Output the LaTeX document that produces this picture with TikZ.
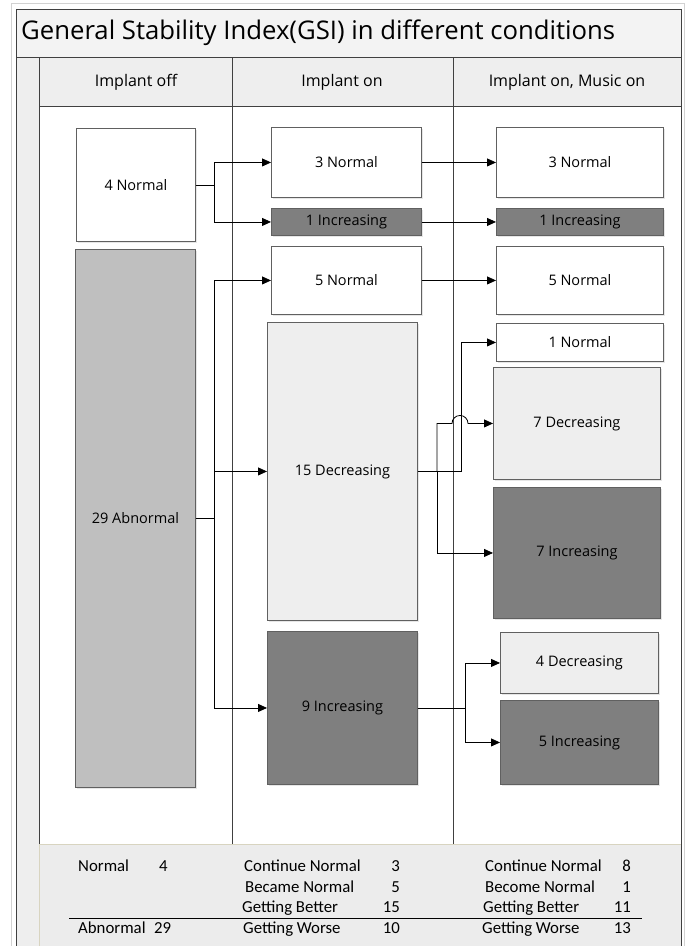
\documentclass[tikz,border=0pt]{standalone}
\usepackage{fontspec}
\setmainfont{Open Sans}
\newfontfamily\sumfont{Carlito}
\usetikzlibrary{arrows.meta, positioning, calc, shadows}
\definecolor{framecolor}{RGB}{96,96,96}
\definecolor{lanecolor}{RGB}{64,64,64}
\definecolor{headcolor}{RGB}{238,238,238}
\definecolor{sumcolor}{RGB}{236,236,236}
\definecolor{sumedge}{RGB}{216,212,192}
\definecolor{abnormcolor}{RGB}{191,191,191}
\definecolor{decrcolor}{RGB}{238,238,238}
\definecolor{incrcolor}{RGB}{127,127,127}

\tikzset{
  stage/.style={draw=framecolor, line width=0.9pt, anchor=north west, inner sep=0pt,
    font=\fontsize{14.5}{17}\selectfont,
    drop shadow={shadow xshift=1.2pt, shadow yshift=-1.2pt, opacity=0.2}},
  flow/.style={-{Triangle[length=9pt,width=8pt]}, line width=0.8pt},
  sumtext/.style={anchor=base west, inner sep=0pt, font=\sumfont\fontsize{16.8}{19}\selectfont},
  sumnum/.style={anchor=base east, inner sep=0pt, font=\sumfont\fontsize{16.8}{19}\selectfont},
}

\begin{document}
\begin{tikzpicture}[x=1pt,y=-1pt]
\useasboundingbox (0,0) rectangle (686,946);
% pool
\draw[gray!35, line width=0.8pt] (11,946) -- (11,3) -- (684,3) -- (684,946);
\fill[headcolor!70] (16,9) rectangle (681,57);
\fill[headcolor] (16,57) rectangle (39,946);
\fill[headcolor] (39,57) rectangle (681,106);
\fill[sumcolor] (39,844) rectangle (681,946);
\draw[sumedge, line width=0.8pt] (39,950) -- (39,844) -- (681,844);
\draw[lanecolor, line width=0.9pt] (16,946) -- (16,9) -- (681,9) -- (681,946);
\draw[lanecolor, line width=0.9pt] (16,57) -- (681,57);
\draw[lanecolor, line width=0.9pt] (39,57) -- (39,844);
\draw[lanecolor, line width=0.9pt] (39,106) -- (681,106);
\draw[lanecolor, line width=0.9pt] (232,57) -- (232,844);
\draw[lanecolor, line width=0.9pt] (453,57) -- (453,844);

\node[anchor=west, inner sep=0pt, font=\fontsize{25.7}{30}\selectfont] (title) at (21,33)
  {General Stability Index(GSI) in different conditions};
\node[font=\fontsize{16}{19}\selectfont] (hoff) at (136,82) {Implant off};
\node[font=\fontsize{16}{19}\selectfont] (hon) at (342,82) {Implant on};
\node[font=\fontsize{16}{19}\selectfont] (hmusic) at (567,82) {Implant on, Music on};

% Implant off
\node[stage, fill=white, minimum width=119pt, minimum height=113pt] (off4) at (76,128) {4 Normal};
\node[stage, fill=abnormcolor, minimum width=120pt, minimum height=538pt] (off29) at (75,249) {29 Abnormal};

% Implant on
\node[stage, fill=white, minimum width=150pt, minimum height=70pt] (on3) at (271,127) {3 Normal};
\node[stage, fill=incrcolor, minimum width=150pt, minimum height=27pt] (on1i) at (271,208) {1 Increasing};
\node[stage, fill=white, minimum width=150pt, minimum height=68pt] (on5) at (271,246) {5 Normal};
\node[stage, fill=decrcolor, minimum width=150pt, minimum height=298pt] (on15) at (267,322) {15 Decreasing};
\node[stage, fill=incrcolor, minimum width=150pt, minimum height=153pt] (on9) at (267,631) {9 Increasing};

% Implant on, Music on
\node[stage, fill=white, minimum width=167pt, minimum height=70pt] (mu3) at (496,127) {3 Normal};
\node[stage, fill=incrcolor, minimum width=167pt, minimum height=27pt] (mu1i) at (496,208) {1 Increasing};
\node[stage, fill=white, minimum width=167pt, minimum height=68pt] (mu5) at (496,246) {5 Normal};
\node[stage, fill=white, minimum width=167pt, minimum height=38pt] (mu1n) at (496,323) {1 Normal};
\node[stage, fill=decrcolor, minimum width=167pt, minimum height=112pt] (mu7d) at (493,367) {7 Decreasing};
\node[stage, fill=incrcolor, minimum width=167pt, minimum height=131pt] (mu7i) at (493,487) {7 Increasing};
\node[stage, fill=decrcolor, minimum width=158pt, minimum height=61pt] (mu4d) at (500,632) {4 Decreasing};
\node[stage, fill=incrcolor, minimum width=158pt, minimum height=84pt] (mu5i) at (500,700) {5 Increasing};

% flows
\draw[flow] (off4.east) -- ++(18,0) |- (on3.west);
\draw[flow] (off4.east) -- ++(18,0) |- (on1i.west);
\draw[flow] (on3.east) -- (mu3.west);
\draw[flow] (on1i.east) -- (mu1i.west);
\draw[flow] (on5.east) -- (mu5.west);
\draw[flow] (off29.east) -- ++(18,0) |- (on5.west);
\draw[flow] (off29.east) -- ++(18,0) |- (on15.west);
\draw[flow] (off29.east) -- ++(18,0) |- (on9.west);
\draw[flow] (on15.east) -- ++(43,0) |- (mu1n.west);
\draw[flow] ($(on15.east)+(19,0)$) |- ($(mu7d.west)+(-41,0)$)
  arc[start angle=180, end angle=360, radius=8] -- (mu7d.west);
\draw[flow] ($(on15.east)+(19,0)$) |- (mu7i.west);
\draw[flow] (on9.east) -- ++(47,0) |- (mu4d.west);
\draw[flow] (on9.east) -- ++(47,0) |- (mu5i.west);

% summary
\node[sumtext] (sn) at (78,871) {Normal};
\node[sumtext] (snv) at (159,871) {4};
\node[sumtext] (sa) at (78,933) {Abnormal};
\node[sumtext] (sav) at (154,933) {29};
\node[sumtext] (cn) at (244,871) {Continue Normal};
\node[sumnum] (cnv) at (400,871) {3};
\node[sumtext] (bn) at (245,892) {Became Normal};
\node[sumnum] (bnv) at (400,892) {5};
\node[sumtext] (gb) at (242,912) {Getting Better};
\node[sumnum] (gbv) at (400,912) {15};
\node[sumtext] (gw) at (243,933) {Getting Worse};
\node[sumnum] (gwv) at (400,933) {10};
\node[sumtext] (mcn) at (485,871) {Continue Normal};
\node[sumnum] (mcnv) at (631,871) {8};
\node[sumtext] (mbn) at (485,892) {Become Normal};
\node[sumnum] (mbnv) at (631,892) {1};
\node[sumtext] (mgb) at (483,912) {Getting Better};
\node[sumnum] (mgbv) at (631,912) {11};
\node[sumtext] (mgw) at (482,933) {Getting Worse};
\node[sumnum] (mgwv) at (631,933) {13};
\draw[line width=1pt] (69,918) -- (642,918);
\end{tikzpicture}
\end{document}
